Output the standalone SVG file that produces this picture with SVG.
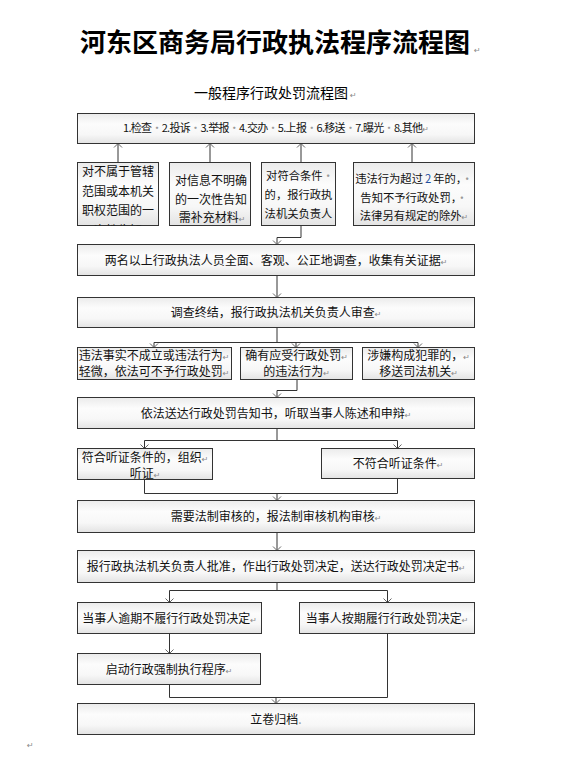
<svg xmlns="http://www.w3.org/2000/svg" width="567" height="776" viewBox="0 0 567 776">
<style>
.t{font-family:"Noto Sans CJK SC","Noto Sans",sans-serif;font-size:12px;fill:#111;text-anchor:middle}
.s{font-size:11.3px}
.m{font-family:"DejaVu Sans",sans-serif;font-size:8px;fill:#888}
.d{fill:#999}
.box{fill:url(#g);stroke:#333;stroke-width:1}
.c{fill:none;stroke:#333;stroke-width:1}
.a{fill:none;stroke:#333;stroke-width:1;marker-end:url(#v)}
</style>
<defs>
<linearGradient id="g" x1="0" y1="0" x2="0" y2="1">
<stop offset="0" stop-color="#ebebeb"/>
<stop offset="0.35" stop-color="#fcfcfc"/>
<stop offset="0.7" stop-color="#f7f7f7"/>
<stop offset="1" stop-color="#e3e3e3"/>
</linearGradient>
<marker id="v" viewBox="-5 -5 10 10" refX="0" refY="0" markerWidth="10" markerHeight="10" markerUnits="userSpaceOnUse" orient="auto">
<path d="M-4,-4 L0,0 L-4,4" fill="none" stroke="#666" stroke-width="1"/>
</marker>
<clipPath id="cA"><rect x="77.5" y="162.5" width="81" height="63"/></clipPath>
<clipPath id="cC"><rect x="261.5" y="162.5" width="74" height="63"/></clipPath>
</defs>

<g id="title">
<text x="275" y="52" style="font-family:'Noto Sans CJK SC',sans-serif;font-size:26px;font-weight:bold;fill:#000;text-anchor:middle">河东区商务局行政执法程序流程图</text>
<text x="474" y="53" class="m">↵</text>
</g>
<g id="subtitle">
<text x="271" y="98" style="font-family:'Noto Sans CJK SC',sans-serif;font-size:14px;fill:#000;text-anchor:middle">一般程序行政处罚流程图</text>
<text x="350" y="98" class="m">↵</text>
</g>

<g id="connectors">
<path class="a" d="M118,162.5 V143.5"/>
<path class="a" d="M210,162.5 V143.5"/>
<path class="a" d="M301,162.5 V143.5"/>
<path class="a" d="M412,162.5 V143.5"/>
<path class="a" d="M301,225.5 V237.5 H277 V244.5"/>
<path class="a" d="M277,275.5 V297.5"/>
<path class="c" d="M277,327.5 V342.5 M154,342.5 H418"/>
<path class="a" d="M154,342.5 V347.5"/>
<path class="a" d="M296,342.5 V347.5"/>
<path class="a" d="M418,342.5 V347.5"/>
<path class="a" d="M297,379.5 V390.5 H277 V397.5"/>
<path class="c" d="M277,428.5 V440.5 M144.5,440.5 H397.5"/>
<path class="a" d="M144.5,440.5 V448.5"/>
<path class="a" d="M397.5,440.5 V448.5"/>
<path class="c" d="M144.5,479.5 V493.5 H397.5 V478.5"/>
<path class="a" d="M277,493.5 V500.5"/>
<path class="a" d="M277,532.5 V550.5"/>
<path class="c" d="M277,582.5 V590.5 M169.5,590.5 H387.5"/>
<path class="a" d="M169.5,590.5 V602.5"/>
<path class="a" d="M387.5,590.5 V602.5"/>
<path class="a" d="M169.5,633.5 V653.5"/>
<path class="c" d="M169.5,684.5 V697.5 H387.5 V633.5"/>
<path class="a" d="M276,697.5 V703.5"/>
</g>

<g id="sources">
<rect class="box" x="77.5" y="113.5" width="397" height="30"/>
<text class="t" x="276" y="132" style="font-size:11px" textLength="306" lengthAdjust="spacing">1.检查<tspan class="d">·</tspan>2.投诉<tspan class="d">·</tspan>3.举报<tspan class="d">·</tspan>4.交办<tspan class="d">·</tspan>5.上报<tspan class="d">·</tspan>6.移送<tspan class="d">·</tspan>7.曝光<tspan class="d">·</tspan>8.其他<tspan class="m">↵</tspan></text>
</g>

<g id="noJurisdiction">
<rect class="box" x="77.5" y="162.5" width="81" height="63"/>
<g clip-path="url(#cA)">
<text class="t" x="118" y="176">对不属于管辖</text>
<text class="t" x="118" y="195.5">范围或本机关</text>
<text class="t" x="118" y="215">职权范围的一</text>
<text class="t" x="118" y="234.5">次性告知</text>
</g>
</g>

<g id="unclearInfo">
<rect class="box" x="169.5" y="162.5" width="81" height="63"/>
<text class="t" x="211" y="185">对信息不明确</text>
<text class="t" x="211" y="203.5">的一次性告知</text>
<text class="t" x="212" y="222">需补充材料<tspan class="m">↵</tspan></text>
</g>

<g id="qualified">
<rect class="box" x="261.5" y="162.5" width="74" height="63"/>
<g clip-path="url(#cC)">
<text class="t s" x="300" y="179.5">对符合条件<tspan class="d">·</tspan></text>
<text class="t s" x="298.5" y="198.5">的，报行政执</text>
<text class="t s" x="298.5" y="217.5">法机关负责人</text>
<text class="t s" x="298.5" y="236">批准立案</text>
</g>
</g>

<g id="overTwoYears">
<rect class="box" x="353.5" y="162.5" width="121" height="63"/>
<text class="t s" x="414" y="183">违法行为超过<tspan fill="#1f4fa0" dx="2">2</tspan><tspan dx="2">年的，</tspan><tspan class="d">·</tspan></text>
<text class="t s" x="414" y="201.5">告知不予行政处罚，<tspan class="d">·</tspan></text>
<text class="t s" x="414" y="220">法律另有规定的除外<tspan class="m">↵</tspan></text>
</g>

<g id="investigate">
<rect class="box" x="77.5" y="244.5" width="397" height="31"/>
<text class="t" x="276" y="264.5">两名以上行政执法人员全面、客观、公正地调查，收集有关证据<tspan class="m">↵</tspan></text>
</g>

<g id="review">
<rect class="box" x="77.5" y="297.5" width="397" height="30"/>
<text class="t" x="276" y="316.5">调查终结，报行政执法机关负责人审查<tspan class="m">↵</tspan></text>
</g>

<g id="noPenalty">
<rect class="box" x="77.5" y="347.5" width="154" height="32"/>
<text class="t" x="154" y="359.5">违法事实不成立或违法行为<tspan class="m">↵</tspan></text>
<text class="t" x="154" y="375.5">轻微，依法可不予行政处罚<tspan class="m">↵</tspan></text>
</g>

<g id="penalty">
<rect class="box" x="240.5" y="347.5" width="112" height="32"/>
<text class="t" x="296.5" y="359.5">确有应受行政处罚<tspan class="m">↵</tspan></text>
<text class="t" x="296.5" y="375.5">的违法行为<tspan class="m">↵</tspan></text>
</g>

<g id="crime">
<rect class="box" x="362.5" y="347.5" width="112" height="32"/>
<text class="t" x="418.5" y="359.5">涉嫌构成犯罪的，<tspan class="m">↵</tspan></text>
<text class="t" x="418.5" y="375.5">移送司法机关<tspan class="m">↵</tspan></text>
</g>

<g id="notice">
<rect class="box" x="77.5" y="397.5" width="397" height="31"/>
<text class="t" x="276" y="417.5">依法送达行政处罚告知书，听取当事人陈述和申辩<tspan class="m">↵</tspan></text>
</g>

<g id="hearing">
<rect class="box" x="77.5" y="448.5" width="135" height="31"/>
<text class="t" x="145" y="461.5">符合听证条件的，组织<tspan class="m">↵</tspan></text>
<text class="t" x="145" y="477.5">听证<tspan class="m">↵</tspan></text>
</g>

<g id="noHearing">
<rect class="box" x="321.5" y="448.5" width="153" height="30"/>
<text class="t" x="398" y="467.5">不符合听证条件<tspan class="m">↵</tspan></text>
</g>

<g id="legalReview">
<rect class="box" x="77.5" y="500.5" width="397" height="32"/>
<text class="t" x="276" y="520.5">需要法制审核的，报法制审核机构审核<tspan class="m">↵</tspan></text>
</g>

<g id="decision">
<rect class="box" x="77.5" y="550.5" width="397" height="32"/>
<text class="t" x="276" y="570.5">报行政执法机关负责人批准，作出行政处罚决定，送达行政处罚决定书<tspan class="m">↵</tspan></text>
</g>

<g id="overdue">
<rect class="box" x="77.5" y="602.5" width="184" height="31"/>
<text class="t" x="169.5" y="622.5">当事人逾期不履行行政处罚决定<tspan class="m">↵</tspan></text>
</g>

<g id="onTime">
<rect class="box" x="299.5" y="602.5" width="175" height="31"/>
<text class="t" x="387" y="622.5">当事人按期履行行政处罚决定<tspan class="m">↵</tspan></text>
</g>

<g id="enforce">
<rect class="box" x="77.5" y="653.5" width="183" height="31"/>
<text class="t" x="169" y="673.5">启动行政强制执行程序<tspan class="m">↵</tspan></text>
</g>

<g id="archive">
<rect class="box" x="77.5" y="703.5" width="397" height="31"/>
<text class="t" x="276" y="723.5">立卷归档<tspan class="d">.</tspan></text>
</g>

<text x="27" y="748" class="m">↵</text>
</svg>
